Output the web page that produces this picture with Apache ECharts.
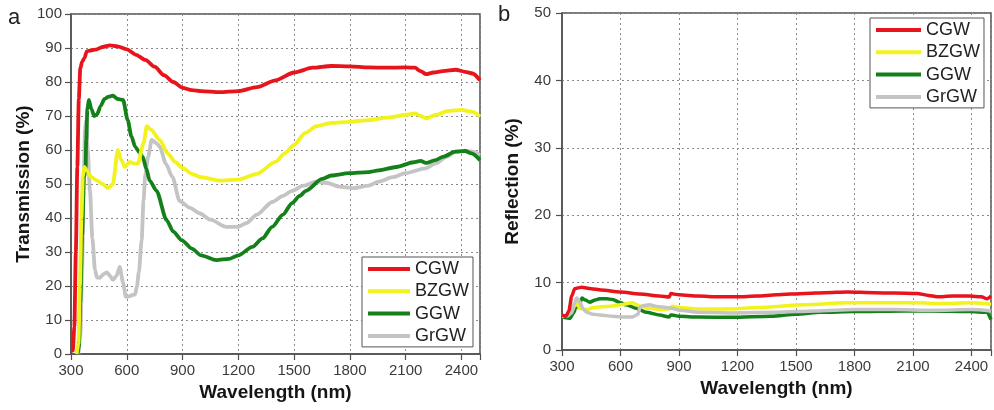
<!DOCTYPE html>
<html>
<head>
<meta charset="utf-8">
<script src="https://cdn.jsdelivr.net/npm/echarts@6/dist/echarts.min.js"></script>
<style>html,body{margin:0;padding:0;background:#fff}#c{width:994px;height:410px}</style>
</head>
<body>
<div id="c"></div>
<script>
// ---- Data (a) Transmission ----
const names = ['CGW', 'BZGW', 'GGW', 'GrGW'];
const xTicks = [300, 600, 900, 1200, 1500, 1800, 2100, 2400];

const wlCGW_T = [300,310,318,326,334,342,350,360,372,385,400,430,470,510,550,600,650,700,750,800,850,900,950,1000,1100,1200,1300,1400,1500,1600,1700,1800,1900,2000,2100,2150,2180,2210,2250,2300,2370,2420,2460,2500];
const tCGW    = [1,1,8,30,55,75,84,86,87,89,89.2,89.5,90.3,90.8,90.5,89.6,88,86.5,84.5,82,80,78.3,77.6,77.3,77,77.3,78.5,80.5,82.8,84.2,84.7,84.6,84.3,84.2,84.3,84.2,83.2,82.3,82.8,83.2,83.6,83,82.5,80.5];

const wlBZGW_T = [330,340,348,356,364,372,385,410,440,470,500,525,552,570,590,615,640,660,690,708,730,777,820,860,900,950,1000,1100,1200,1300,1400,1450,1500,1560,1620,1700,1800,1900,2000,2100,2150,2180,2210,2260,2330,2400,2460,2500];
const tBZGW    = [0,3,20,40,52,55,54,52,51,50,48.8,50,60,57,55,56.5,56,56,62,67,66,63,59,56.5,54.7,53,52,51,51.3,53,56.5,59,61.5,65,67,68,68.3,68.8,69.5,70.3,70.8,70,69.3,70.3,71.5,71.8,71.2,69.8];

const wlGGW_T = [335,342,350,360,370,378,382,388,396,410,425,440,460,480,500,525,552,580,605,625,645,665,686,705,723,760,814,850,895,950,1000,1082,1150,1200,1275,1330,1382,1440,1489,1530,1564,1650,1700,1795,1900,1955,2050,2143,2180,2212,2260,2300,2368,2420,2455,2500];
const tGGW    = [0,2,15,35,52,54,63,72,74.7,72,70,70.5,73,75,75.6,76,75,74.7,68.8,64,61,59.5,58,54.5,51,48,39.4,36,33.5,31,29,27.6,28,29,31.5,34,37.4,41,44.4,46.5,48,51.5,52.5,53.2,53.5,54,55,56.4,56.8,56.2,57,58,59.5,59.7,59,57];

const wlGrGW_T = [340,350,360,368,375,382,390,402,415,429,440,455,475,493,510,525,545,562,580,595,615,632,645,654,665,680,690,700,715,734,760,777,810,846,884,940,991,1050,1136,1200,1243,1300,1382,1440,1489,1550,1618,1680,1741,1821,1900,1955,2030,2100,2207,2260,2320,2368,2420,2460,2500];
const tGrGW    = [0,5,25,50,66,68.8,60,48,34,24.7,22.5,22.4,23.5,24,23,21.8,23,25.6,21,16.8,17,17.4,17.5,19.7,24,33.5,45,53,58,63,62,61,56,52,45,43,41.4,39.5,37.4,37.4,38.5,41,44.7,46.5,48,49.5,50.7,50.3,49.2,48.8,49.5,50.7,52,53.2,54.6,56,58,59.5,59.8,59.5,58.5];

// ---- Data (b) Reflection ----
const wlCGW_R = [300,320,335,350,365,380,400,450,500,600,700,800,850,858,870,900,1000,1100,1200,1300,1400,1546,1650,1764,1900,2000,2120,2180,2222,2300,2390,2450,2480,2500];
const rCGW    = [5.2,5,5.8,8,9.1,9.2,9.3,9.1,8.9,8.6,8.3,8.0,7.85,8.4,8.3,8.2,8.0,7.9,7.9,8.0,8.2,8.4,8.5,8.6,8.5,8.45,8.4,8.1,7.9,8.0,8.0,7.9,7.6,8.0];

const wlBZGW_R = [300,330,350,365,375,390,427,460,500,550,600,661,700,750,800,850,864,900,1000,1170,1300,1546,1764,2000,2120,2250,2390,2500];
const rBZGW    = [5,5.1,5.8,6.5,7.2,6.2,6.0,6.3,6.4,6.5,6.7,7.0,6.5,6.2,6.0,6.1,6.5,6.3,6.1,6.1,6.3,6.7,7.0,7.0,7.0,6.9,7.0,6.8];

const wlGGW_R = [300,320,340,360,375,385,402,420,442,470,493,530,559,600,630,680,732,800,849,858,864,900,1000,1170,1373,1500,1627,1800,2054,2200,2390,2480,2500];
const rGGW    = [5,4.8,4.7,5.5,6.8,6.3,7.7,7.4,7.1,7.4,7.6,7.6,7.5,7.0,6.7,6.2,5.6,5.2,4.9,5.2,5.2,5.0,4.9,4.85,5.0,5.3,5.6,5.7,5.8,5.8,5.7,5.6,4.5];

const wlGrGW_R = [300,330,350,365,375,390,410,427,460,493,560,620,661,690,700,720,747,800,864,900,1002,1170,1400,1600,1800,2000,2200,2400,2500];
const rGrGW    = [5,5.1,5.5,7.0,7.7,7.2,6.0,5.6,5.3,5.2,5.0,4.9,4.9,5.3,6.4,6.6,6.7,6.4,6.2,5.9,5.6,5.5,5.6,5.8,6.0,6.0,5.9,6.0,5.8];

const colors = { CGW: '#e8141c', BZGW: '#f2f21c', GGW: '#13801a', GrGW: '#c4c4c4' };
const FONT = "'Liberation Sans', Arial, sans-serif";

function zip(xs, ys) { return xs.map((x, i) => [x, ys[i]]); }

const chart = echarts.init(document.getElementById('c'), null, { renderer: 'canvas' });

function mkX(gi, gap) {
  return {
    type: 'value', gridIndex: gi, min: 300, max: 2500, interval: 300,
    name: 'Wavelength (nm)', nameLocation: 'middle', nameGap: gap,
    nameTextStyle: { fontFamily: FONT, fontSize: 19, fontWeight: 'bold', color: '#151515' },
    axisLine: { show: true, lineStyle: { color: '#505050', width: 1.5 } },
    axisTick: { show: true, inside: false, length: 6, lineStyle: { color: '#505050', width: 1.2 } },
    axisLabel: { fontFamily: FONT, fontSize: 15, color: '#3a3a3a', margin: 9,
      formatter: v => (xTicks.indexOf(v) >= 0 ? String(v) : '') },
    splitLine: { show: true, lineStyle: { color: '#8a8a8a', type: [2, 3], width: 1 } }
  };
}
function mkY(gi, max, name, gap, margin) {
  return {
    type: 'value', gridIndex: gi, min: 0, max: max, interval: 10,
    name: name, nameLocation: 'middle', nameGap: gap,
    nameTextStyle: { fontFamily: FONT, fontSize: 19, fontWeight: 'bold', color: '#151515' },
    axisLine: { show: true, lineStyle: { color: '#505050', width: 1.5 } },
    axisTick: { show: true, inside: false, length: 6, lineStyle: { color: '#505050', width: 1.2 } },
    axisLabel: { fontFamily: FONT, fontSize: 15, color: '#3a3a3a', margin: margin },
    splitLine: { show: true, lineStyle: { color: '#8a8a8a', type: [2, 3], width: 1 } }
  };
}
function mkSeries(name, data, gi, z, w) {
  return {
    name: name, type: 'line', xAxisIndex: gi, yAxisIndex: gi, data: data,
    showSymbol: false, symbol: 'none', smooth: 0.25, smoothMonotone: 'x',
    color: colors[name], lineStyle: { color: colors[name], width: w }, z: z, animation: false
  };
}
function mkLegend(left, top, iw, pad) {
  return {
    data: names, orient: 'vertical', left: left, top: top, icon: 'rect',
    itemWidth: iw, itemHeight: 4, itemGap: 4.3, padding: pad,
    borderColor: '#555', borderWidth: 1, backgroundColor: '#fff',
    textStyle: { fontFamily: FONT, fontSize: 18, color: '#222', padding: [0, 0, 0, 0] },
    selectedMode: false
  };
}

chart.setOption({
  animation: false,
  backgroundColor: '#fff',
  grid: [
    { left: 71, top: 14, width: 409, height: 340, show: true, borderColor: '#505050', borderWidth: 1.5, backgroundColor: 'transparent' },
    { left: 562, top: 13, width: 432, height: 337, show: true, borderColor: '#505050', borderWidth: 1.5, backgroundColor: 'transparent' }
  ],
  xAxis: [mkX(0, 23), mkX(1, 27)],
  yAxis: [mkY(0, 100, 'Transmission (%)', 38, 9), mkY(1, 50, 'Reflection (%)', 40, 11)],
  legend: [mkLegend(362, 257, 42, [3, 4, 2, 6]), mkLegend(870, 18, 45, [3, 4, 2, 6])],
  graphic: [
    { type: 'text', left: 8, top: 7, style: { text: 'a', fontFamily: FONT, fontSize: 22, fill: '#222' } },
    { type: 'text', left: 498, top: 4, style: { text: 'b', fontFamily: FONT, fontSize: 22, fill: '#222' } }
  ],
  series: [
    mkSeries('GrGW', zip(wlGrGW_T, tGrGW), 0, 3, 3.8),
    mkSeries('GGW', zip(wlGGW_T, tGGW), 0, 4, 3.8),
    mkSeries('BZGW', zip(wlBZGW_T, tBZGW), 0, 5, 3.8),
    mkSeries('CGW', zip(wlCGW_T, tCGW), 0, 6, 3.8),
    mkSeries('GGW', zip(wlGGW_R, rGGW), 1, 3, 3.5),
    mkSeries('BZGW', zip(wlBZGW_R, rBZGW), 1, 4, 3.5),
    mkSeries('GrGW', zip(wlGrGW_R, rGrGW), 1, 5, 3.5),
    mkSeries('CGW', zip(wlCGW_R, rCGW), 1, 6, 3.5)
  ]
});
</script>
</body>
</html>
